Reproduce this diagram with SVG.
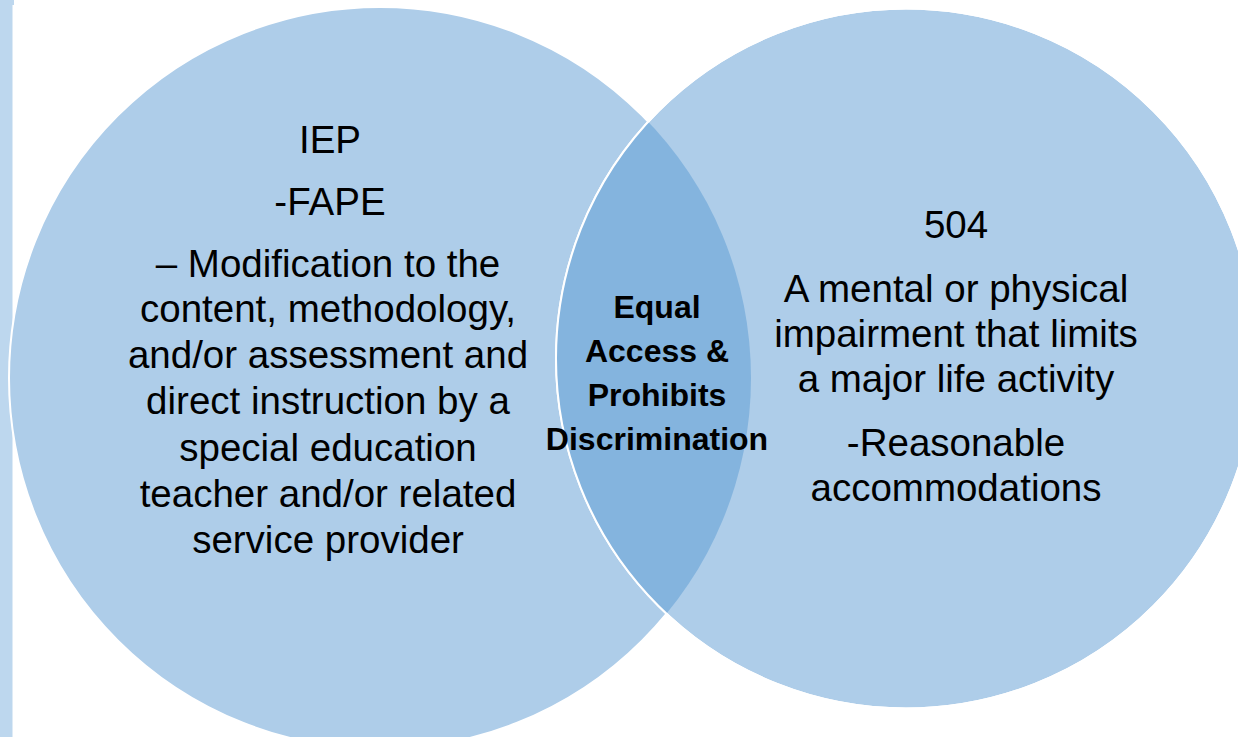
<svg xmlns="http://www.w3.org/2000/svg" width="1238" height="737" viewBox="0 0 1238 737">
  <style>
    .set { fill: #aecde9; stroke: #ffffff; stroke-width: 2; }
    .ring { fill: none; stroke: #ffffff; stroke-width: 2; }
    .lens { fill: #84b4de; }
    .label { font-family: "Liberation Sans", Arial, sans-serif; font-size: 38.5px; fill: #000000; text-anchor: middle; }
    .core { font-family: "Liberation Sans", Arial, sans-serif; font-size: 32px; font-weight: bold; fill: #000000; text-anchor: middle; }
  </style>
  <defs>
    <clipPath id="clip-504">
      <circle cx="906" cy="358.5" r="350"/>
    </clipPath>
  </defs>

  <rect width="1238" height="737" fill="#ffffff"/>

  <!-- side bar -->
  <rect x="0" y="0" width="12.5" height="737" fill="#bdd7ee"/>
  <rect x="0" y="0" width="14" height="5" fill="#bdd7ee"/>

  <g id="set-iep">
    <circle class="set" cx="380" cy="378" r="371"/>
  </g>

  <g id="set-504">
    <circle class="set" cx="906" cy="358.5" r="350"/>
  </g>

  <g id="overlap">
    <circle class="lens" cx="380" cy="378" r="371" clip-path="url(#clip-504)"/>
    <circle class="ring" cx="906" cy="358.5" r="350"/>
  </g>

  <g id="text-iep">
    <text class="label" x="330" y="153">IEP</text>
    <text class="label" x="330" y="215">-FAPE</text>
    <text class="label" x="328" y="277">– Modification to the</text>
    <text class="label" x="328" y="322">content, methodology,</text>
    <text class="label" x="328" y="368">and/or assessment and</text>
    <text class="label" x="328" y="414">direct instruction by a</text>
    <text class="label" x="328" y="461">special education</text>
    <text class="label" x="328" y="507">teacher and/or related</text>
    <text class="label" x="328" y="553">service provider</text>
  </g>

  <g id="text-504">
    <text class="label" x="956" y="238">504</text>
    <text class="label" x="956" y="302">A mental or physical</text>
    <text class="label" x="956" y="347">impairment that limits</text>
    <text class="label" x="956" y="392">a major life activity</text>
    <text class="label" x="956" y="456">-Reasonable</text>
    <text class="label" x="956" y="501">accommodations</text>
  </g>

  <g id="text-overlap">
    <text class="core" x="657" y="318">Equal</text>
    <text class="core" x="657" y="362">Access &amp;</text>
    <text class="core" x="657" y="406">Prohibits</text>
    <text class="core" x="657" y="450">Discrimination</text>
  </g>
</svg>
